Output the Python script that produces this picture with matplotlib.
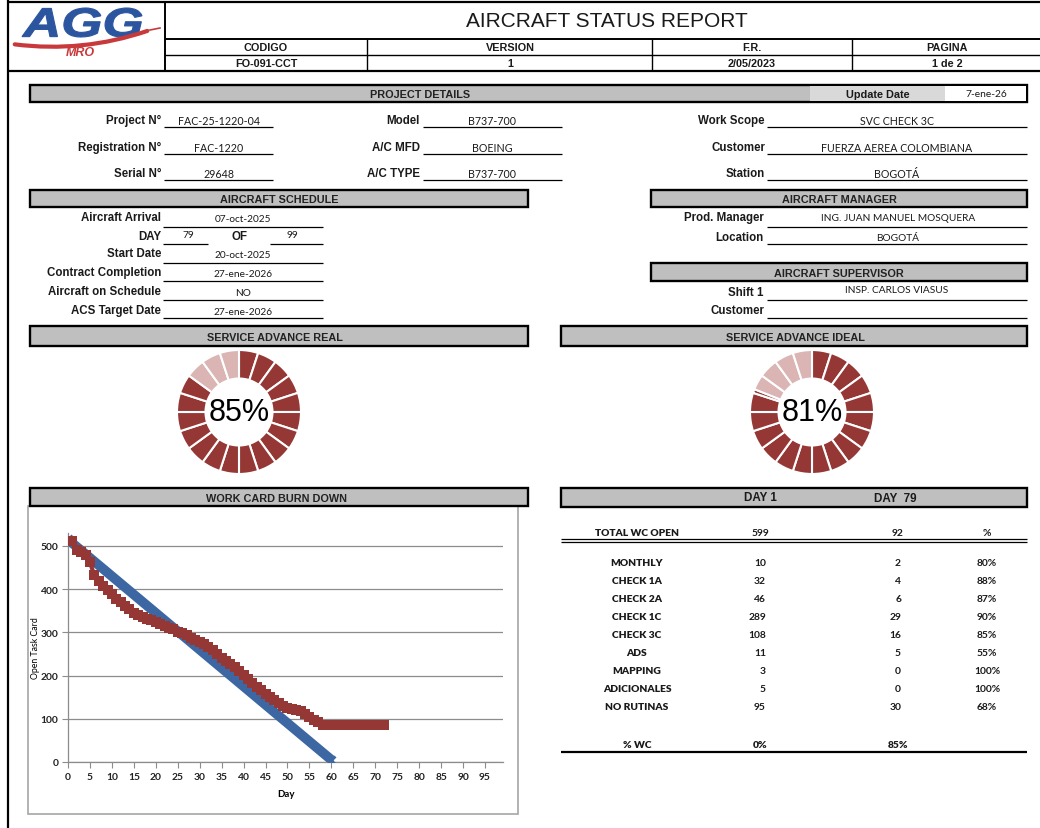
import matplotlib
matplotlib.use("Agg")
import matplotlib.pyplot as plt
from matplotlib.patches import Rectangle, FancyArrowPatch, PathPatch
from matplotlib.textpath import TextPath
from matplotlib.font_manager import FontProperties
from matplotlib.transforms import Affine2D

# ---------------- data ----------------
header_cols = ["CODIGO", "VERSION", "F.R.", "PAGINA"]
header_vals = ["FO-091-CCT", "1", "2/05/2023", "1 de 2"]

proj_labels_1 = ["Project N°", "Registration N°", "Serial N°"]
proj_values_1 = ["FAC-25-1220-04", "FAC-1220", "29648"]
proj_labels_2 = ["Model", "A/C MFD", "A/C TYPE"]
proj_values_2 = ["B737-700", "BOEING", "B737-700"]
proj_labels_3 = ["Work Scope", "Customer", "Station"]
proj_values_3 = ["SVC CHECK 3C", "FUERZA AEREA COLOMBIANA", "BOGOTÁ"]
update_date = "7-ene-26"

sched_labels = ["Aircraft Arrival", "DAY", "Start Date", "Contract Completion",
                "Aircraft on Schedule", "ACS Target Date"]
sched_values = ["07-oct-2025", None, "20-oct-2025", "27-ene-2026", "NO", "27-ene-2026"]
day_current = "79"
day_total = "99"

manager_labels = ["Prod. Manager", "Location"]
manager_values = ["ING. JUAN MANUEL MOSQUERA", "BOGOTÁ"]
supervisor_labels = ["Shift 1", "Customer"]
supervisor_values = ["INSP. CARLOS VIASUS", ""]

advance_real = 85
advance_ideal = 81
n_segments = 20

burn_days = list(range(0, 73))
burn_real = [512, 512, 490, 487, 478, 462, 432, 420, 408, 398, 388, 378, 370, 362,
             353, 345, 340, 336, 332, 328, 324, 319, 315, 311, 307, 302, 298, 293,
             288, 283, 278, 272, 266, 259, 250, 241, 233, 226, 219, 210, 201, 192,
             183, 174, 166, 158, 150, 143, 136, 130, 126, 123, 120, 117, 112, 105,
             98, 92, 86, 85, 85, 85, 85, 85, 85, 85, 85, 85, 85, 85, 85, 85, 85]
ideal_days = [0, 60]
ideal_open = [515, 5]
x_ticks = list(range(0, 100, 5))
y_ticks = [0, 100, 200, 300, 400, 500]

table_cats = ["MONTHLY", "CHECK 1A", "CHECK 2A", "CHECK 1C", "CHECK 3C", "ADS",
              "MAPPING", "ADICIONALES", "NO RUTINAS"]
table_day1 = [10, 32, 46, 289, 108, 11, 3, 5, 95]
table_day79 = [2, 4, 6, 29, 16, 5, 0, 0, 30]
table_pct = ["80%", "88%", "87%", "90%", "85%", "55%", "100%", "100%", "68%"]
total_day1 = 599
total_day79 = 92
wc_pct_day1 = "0%"
wc_pct_day79 = "85%"

# ---------------- figure ----------------
W, H = 1040, 829
fig = plt.figure(figsize=(W / 100, H / 100), dpi=100)
fig.patch.set_facecolor("white")
ax0 = fig.add_axes([0, 0, 1, 1])
ax0.set_xlim(0, W)
ax0.set_ylim(H, 0)
ax0.axis("off")

ARIAL = "Liberation Sans"
CAL = "Lato"
INK = "#1a1a1a"
DARK_RED = "#953735"
LIGHT_RED = "#dbb4b4"
BLUE = "#3d67a3"


def txt(x, y, s, size=8, weight="bold", ha="center", family=ARIAL, color=INK, **kw):
    ax0.text(x, y, s, fontsize=size, fontweight=weight, ha=ha, va="center",
             family=family, color=color, **kw)


def hline(x0, x1, y, lw=0.9, color="black"):
    ax0.plot([x0, x1], [y, y], color=color, lw=lw, solid_capstyle="butt")


def vline(x, y0, y1, lw=0.9, color="black"):
    ax0.plot([x, x], [y0, y1], color=color, lw=lw, solid_capstyle="butt")


def bar(x0, y0, x1, y1, title=None, tx=None, fill="#bfbfbf"):
    ax0.add_patch(Rectangle((x0, y0), x1 - x0, y1 - y0, facecolor=fill,
                            edgecolor="black", lw=1.7, zorder=1))
    if title is not None:
        txt(tx if tx is not None else (x0 + x1) / 2, (y0 + y1) / 2 + 0.5, title,
            size=7.8, color="#222222", zorder=3)


# page border / header grid
vline(8, 0, H, lw=1.6)
hline(8, W, 2.5, lw=1.6)
hline(8, W, 72, lw=1.6)
vline(165, 2, 72, lw=1.4)
hline(165, W, 40, lw=1.4)
hline(165, W, 56, lw=1.0)
for xs in [367, 652, 852]:
    vline(xs, 40, 72, lw=1.0)
col_centers = [266, 510, 752, 947]
for c, h, v in zip(col_centers, header_cols, header_vals):
    txt(c, 47.5, h, size=7.8)
    txt(c, 63.5, v, size=7.8)
txt(607, 21, "AIRCRAFT STATUS REPORT", size=15, weight="medium")

# logo
fp = FontProperties(family=ARIAL, weight="bold", style="italic")
tp = TextPath((0, 0), "AGG", size=1, prop=fp)
ext = tp.get_extents()
lx0, lx1, ly_top, ly_base = 22, 142, 9, 38
sx = (lx1 - lx0) / ext.width
sy = (ly_base - ly_top) / ext.height
tr = Affine2D().translate(-ext.x0, -ext.y0).scale(sx, -sy).translate(lx0, ly_base)
ax0.add_patch(PathPatch(tr.transform_path(tp), facecolor="#2c55a0",
                        edgecolor="#2c55a0", lw=0.8, zorder=3))
sw = FancyArrowPatch((12, 45), (150, 31), arrowstyle="-", lw=3.0, color="#c8393b",
                     connectionstyle="arc3,rad=0.12", zorder=4)
ax0.add_patch(sw)
ax0.plot([150, 160], [31, 29], color="#c8393b", lw=1.2)
ax0.text(80, 53, "MRO", fontsize=9, fontweight="heavy", style="italic",
         family=ARIAL, color="#c8393b", ha="center", va="center")

# project details
bar(30, 86, 1027, 103, "PROJECT DETAILS", tx=420)
ax0.add_patch(Rectangle((810, 87), 135, 15, facecolor="#d9d9d9", lw=0, zorder=2))
ax0.add_patch(Rectangle((945, 87), 81, 15, facecolor="white", lw=0, zorder=2))
txt(878, 95, "Update Date", size=7.8, zorder=3)
txt(986, 94, update_date, size=7.4, weight="normal", family=CAL, zorder=3)

VAL = 7.7
LAB = 8.3
row_y = [121, 148, 174]
for y, l1, v1, l2, v2, l3, v3 in zip(row_y, proj_labels_1, proj_values_1,
                                     proj_labels_2, proj_values_2,
                                     proj_labels_3, proj_values_3):
    txt(161, y, l1, ha="right", size=LAB)
    hline(164, 273, y + 7)
    txt(219, y, v1, size=VAL, weight="normal", family=CAL)
    txt(420, y, l2, ha="right", size=LAB)
    hline(423, 562, y + 7)
    txt(492, y, v2, size=VAL, weight="normal", family=CAL)
    txt(765, y, l3, ha="right", size=LAB)
    hline(767, 1027, y + 7)
    txt(897, y, v3, size=VAL, weight="normal", family=CAL)

# aircraft schedule
bar(30, 191, 528, 208, "AIRCRAFT SCHEDULE", tx=279)
sched_y = [218, 237, 254, 273, 292, 311]
line_y = [228, 245, 264, 282, 301, 319]
for y, ly, lab, val in zip(sched_y, line_y, sched_labels, sched_values):
    txt(161, y, lab, ha="right", size=LAB)
    if val is None:
        hline(163, 208, ly)
        hline(270, 323, ly)
        txt(188, y - 2, day_current, size=7.3, weight="normal", family=CAL)
        txt(240, y, "OF", size=LAB)
        txt(292, y - 2, day_total, size=7.3, weight="normal", family=CAL)
    else:
        hline(163, 323, ly)
        txt(243, y + 1, val, size=7.3, weight="normal", family=CAL)

# manager / supervisor
bar(651, 191, 1027, 208, "AIRCRAFT MANAGER")
for y, ly, lab, val in zip([218, 238], [228, 245], manager_labels, manager_values):
    txt(764, y, lab, ha="right", size=LAB)
    hline(767, 1027, ly)
    txt(898, y, val, size=7.3, weight="normal", family=CAL)
bar(651, 264, 1027, 282, "AIRCRAFT SUPERVISOR")
for y, ly, lab, val in zip([293, 311], [301, 319], supervisor_labels, supervisor_values):
    txt(764, y, lab, ha="right", size=LAB)
    hline(767, 1027, ly)
    txt(897, y - 3, val, size=7.3, weight="normal", family=CAL)

# service advance bars
bar(30, 327, 528, 347, "SERVICE ADVANCE REAL", tx=275)
bar(561, 327, 1027, 347, "SERVICE ADVANCE IDEAL", tx=795)


def donut(cx, cy, r, pct):
    ax = fig.add_axes([(cx - r) / W, 1 - (cy + r) / H, 2 * r / W, 2 * r / H])
    sizes, colors = [], []
    step = 100 / n_segments
    for i in range(n_segments):
        s0 = i * step
        dark = min(max(pct - s0, 0), step)
        if dark > 0:
            sizes.append(dark)
            colors.append(DARK_RED)
        if step - dark > 0:
            sizes.append(step - dark)
            colors.append(LIGHT_RED)
    ax.pie(sizes, colors=colors, startangle=90, counterclock=False, radius=1,
           wedgeprops=dict(width=0.46, edgecolor="white", linewidth=1.5))
    ax.set_xlim(-1, 1)
    ax.set_ylim(-1, 1)
    ax.set_aspect("equal")
    ax.axis("off")
    ax.text(0, 0, f"{pct}%", fontsize=22, family=ARIAL, fontweight="medium",
            ha="center", va="center", color="black")


donut(239, 413, 62, advance_real)
donut(812, 413, 62, advance_ideal)

# burn down
bar(30, 489, 528, 507, "WORK CARD BURN DOWN", tx=277)
ax0.add_patch(Rectangle((28, 507), 490, 308, facecolor="white",
                        edgecolor="#a6a6a6", lw=1.2, zorder=0.5))
axb = fig.add_axes([68 / W, 1 - 763 / H, (503 - 68) / W, (763 - 534) / H])
axb.plot(ideal_days, ideal_open, color=BLUE, lw=7, marker="x", ms=6, mew=2,
         solid_capstyle="butt", zorder=3)
axb.plot(burn_days, burn_real, color=DARK_RED, lw=3, marker="s", ms=7.5,
         markeredgewidth=0, zorder=4)
axb.set_xlim(0, 99.1)
axb.set_ylim(0, 530)
axb.set_xticks(x_ticks)
axb.set_yticks(y_ticks)
axb.grid(axis="y", color="#8c8c8c", lw=0.9)
axb.set_axisbelow(True)
for s in ["top", "right"]:
    axb.spines[s].set_visible(False)
for s in ["left", "bottom"]:
    axb.spines[s].set_color("#8c8c8c")
    axb.spines[s].set_linewidth(0.9)
axb.tick_params(axis="both", direction="out", length=4, width=0.8, color="#8c8c8c",
                labelsize=7.4, labelcolor="#222222", pad=3)
for lab in axb.get_xticklabels() + axb.get_yticklabels():
    lab.set_fontfamily(CAL)
    lab.set_fontweight("bold")
axb.set_xlabel("Day", fontsize=7, fontweight="bold", family=CAL, labelpad=6)
axb.set_ylabel("Open Task Card", fontsize=6.3, family=CAL)
axb.yaxis.set_label_coords(-0.065, 0.5)
axb.patch.set_alpha(0)

# table
TS = 7.4
bar(561, 489, 1027, 508)
txt(760, 498, "DAY 1", size=8.4, zorder=3)
txt(895, 498.5, "DAY  79", size=8.4, zorder=3)
c_lab, c_d1, c_d79, c_pct = 637, 766, 901, 987
txt(c_lab, 533, "TOTAL WC OPEN", size=TS, family=CAL, weight="heavy")
txt(760, 533, str(total_day1), size=TS, weight="bold", family=CAL)
txt(898, 533, str(total_day79), size=TS, weight="bold", family=CAL)
txt(c_pct, 533, "%", size=TS, weight="bold", family=CAL)
hline(561, 1027, 540, lw=0.9)
hline(561, 1027, 543, lw=0.9)
tab_y0 = 563
for i, (cat, d1, d79, p) in enumerate(zip(table_cats, table_day1, table_day79, table_pct)):
    y = tab_y0 + 18 * i
    txt(c_lab, y, cat, size=TS, family=CAL, weight="heavy")
    txt(c_d1, y, str(d1), size=TS, weight="bold", family=CAL, ha="right")
    txt(c_d79, y, str(d79), size=TS, weight="bold", family=CAL, ha="right")
    txt(c_pct, y, p, size=TS, weight="bold", family=CAL)
txt(c_lab, 745, "% WC", size=TS, family=CAL, weight="heavy")
txt(760, 745, wc_pct_day1, size=TS, weight="heavy", family=CAL)
txt(898, 745, wc_pct_day79, size=TS, weight="heavy", family=CAL)
hline(561, 1027, 753, lw=1.6)

fig.savefig("out.png", dpi=100, facecolor="white")
